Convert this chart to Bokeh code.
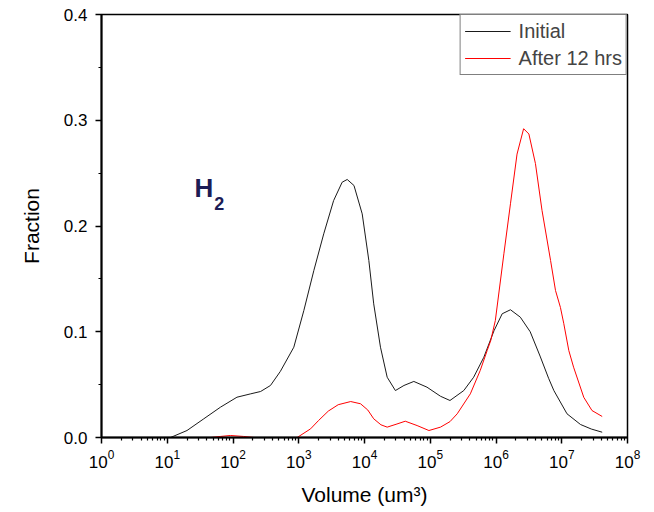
from bokeh.plotting import figure
from bokeh.models import FixedTicker, NumeralTickFormatter, Label, Range1d
from bokeh.embed import file_html
from bokeh.resources import INLINE

# ---- data; volumes given as log10 exponents ----
initial_log_volume = [1.05, 1.30, 1.556, 1.81, 2.06, 2.27, 2.42, 2.57, 2.72, 2.925,
                      3.077, 3.23, 3.38, 3.53, 3.66, 3.737, 3.84, 3.965, 4.066, 4.14,
                      4.243, 4.345, 4.47, 4.60, 4.75, 4.95, 5.156, 5.30, 5.51, 5.66,
                      5.815, 5.97, 6.094, 6.22, 6.37, 6.52, 6.67, 6.80, 6.88, 7.08,
                      7.285, 7.45, 7.615]
initial_fraction = [0.000, 0.0066, 0.0177, 0.0287, 0.0381, 0.0413, 0.0435, 0.0492, 0.0625, 0.0854,
                    0.120, 0.158, 0.1926, 0.224, 0.2414, 0.244, 0.2383, 0.2115, 0.1674, 0.1264,
                    0.0854, 0.057, 0.0444, 0.0492, 0.053, 0.0476, 0.039, 0.035, 0.0444, 0.057,
                    0.0759, 0.101, 0.117, 0.1208, 0.1138, 0.100, 0.077, 0.056, 0.0444, 0.0224,
                    0.0123, 0.008, 0.005]

after_log_volume = [1.66, 1.81, 1.96, 2.16, 2.32, 2.976, 3.18, 3.30, 3.45, 3.60,
                    3.79, 3.94, 4.05, 4.14, 4.25, 4.345, 4.48, 4.62, 4.80, 4.98,
                    5.156, 5.30, 5.41, 5.61, 5.76, 5.866, 5.92, 5.99, 6.12, 6.22,
                    6.32, 6.42, 6.50, 6.60, 6.70, 6.83, 6.905, 6.98, 7.03, 7.107,
                    7.18, 7.335, 7.46, 7.615]
after_fraction = [0.000, 0.0010, 0.0019, 0.0010, 0.000, 0.000, 0.0082, 0.016, 0.025, 0.031,
                  0.034, 0.0319, 0.026, 0.0177, 0.012, 0.0098, 0.0125, 0.0154, 0.0113, 0.0066,
                  0.0098, 0.015, 0.0224, 0.0413, 0.0634, 0.0823, 0.0917, 0.1106, 0.1737, 0.221,
                  0.268, 0.292, 0.287, 0.259, 0.2147, 0.1674, 0.139, 0.123, 0.108, 0.0823,
                  0.0665, 0.038, 0.0255, 0.0199]

x_major_ticks = [1e0, 1e1, 1e2, 1e3, 1e4, 1e5, 1e6, 1e7, 1e8]
y_major_ticks = [0.0, 0.1, 0.2, 0.3, 0.4]
y_minor_ticks = [0.05, 0.15, 0.25, 0.35]

initial_volume = [10 ** e for e in initial_log_volume]
after_volume = [10 ** e for e in after_log_volume]

FONT = "Liberation Sans"

p = figure(width=654, height=512, x_axis_type="log", output_backend="svg",
           toolbar_location=None, x_range=Range1d(1, 1e8), y_range=Range1d(0, 0.4),
           min_border_left=101, min_border_right=27, min_border_top=14, min_border_bottom=75,
           background_fill_color="white", border_fill_color="white")

p.line(initial_volume, initial_fraction, line_color="#1a1a1a", line_width=1,
       legend_label="Initial")
p.line(after_volume, after_fraction, line_color="#ff0000", line_width=1,
       legend_label="After 12 hrs")

p.xgrid.visible = False
p.ygrid.visible = False
p.outline_line_color = "black"
p.outline_line_width = 1.5

x_minor = [k * d for d in x_major_ticks[:-1] for k in range(2, 10)]
p.xaxis.ticker = FixedTicker(ticks=x_major_ticks, minor_ticks=x_minor)
p.yaxis.ticker = FixedTicker(ticks=y_major_ticks, minor_ticks=y_minor_ticks)
p.yaxis.formatter = NumeralTickFormatter(format="0.0")

for ax in (p.xaxis[0], p.yaxis[0]):
    ax.axis_line_color = "black"
    ax.axis_line_width = 2
    ax.major_tick_line_color = "black"
    ax.major_tick_line_width = 1.5
    ax.minor_tick_line_color = "black"
    ax.minor_tick_line_width = 1.2
    ax.major_tick_out = 6
    ax.major_tick_in = 0
    ax.minor_tick_out = 3
    ax.minor_tick_in = 0
    ax.major_label_text_font = FONT
    ax.major_label_text_font_size = "17px"
    ax.major_label_text_color = "black"
    ax.axis_label_text_font = FONT
    ax.axis_label_text_font_size = "21px"
    ax.axis_label_text_font_style = "normal"
    ax.axis_label_text_color = "black"

p.xaxis.axis_label = "Volume (um³)"
p.yaxis.axis_label = "Fraction"
p.xaxis.major_label_standoff = 6
p.yaxis.major_label_standoff = 8
p.xaxis.axis_label_standoff = 12
p.yaxis.axis_label_standoff = 18

p.add_layout(Label(x=26.0, y=0.2364, text="H", text_font=FONT, text_font_size="26px",
                   text_font_style="bold", text_color="#1c1c55", text_baseline="alphabetic"))
p.add_layout(Label(x=52.0, y=0.2213, text="2", text_font=FONT, text_font_size="18px",
                   text_font_style="bold", text_color="#1c1c55", text_baseline="alphabetic"))

lg = p.legend[0]
lg.location = "top_right"
lg.margin = 0
lg.padding = 4
lg.spacing = 3
lg.label_height = 24
lg.glyph_height = 24
lg.glyph_width = 46
lg.label_standoff = 8
lg.label_text_font = FONT
lg.label_text_font_size = "20px"
lg.border_line_color = "black"
lg.border_line_width = 1
lg.background_fill_color = "white"
lg.background_fill_alpha = 1

open("out.html", "w").write(file_html(p, INLINE))
